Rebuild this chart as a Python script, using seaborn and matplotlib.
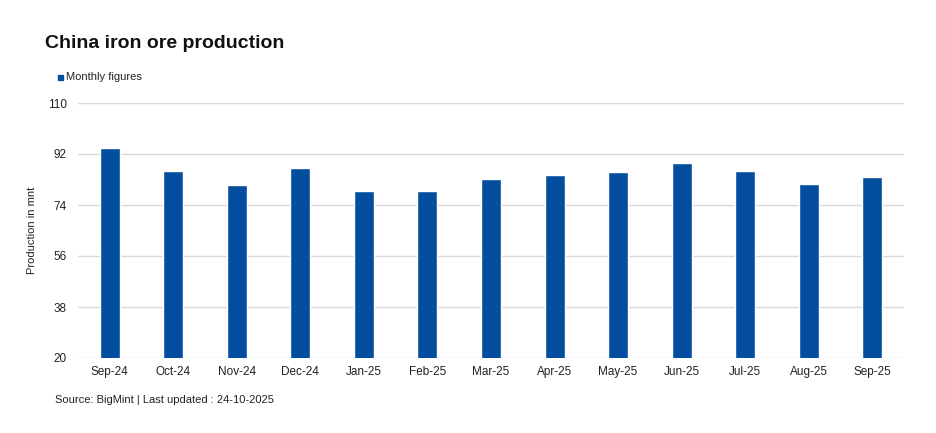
import matplotlib
matplotlib.use("Agg")
import matplotlib.pyplot as plt
import pandas as pd
import seaborn as sns

months = ["Sep-24", "Oct-24", "Nov-24", "Dec-24", "Jan-25", "Feb-25", "Mar-25",
          "Apr-25", "May-25", "Jun-25", "Jul-25", "Aug-25", "Sep-25"]
production = [94.1, 86.0, 81.1, 87.1, 78.9, 78.9, 83.2, 84.6, 85.7, 88.8, 86.0, 81.4, 83.9]
y_ticks = [20, 38, 56, 74, 92, 110]

bar_color = "#044EA0"
grid_color = "#D9D9D9"

sns.set_theme(style="white")
plt.rcParams['font.family'] = ['Liberation Sans', 'DejaVu Sans']

df = pd.DataFrame({"month": months, "production": production})

fig = plt.figure(figsize=(9.36, 4.33), dpi=100)
ax = fig.add_axes([78 / 936, 1 - 358 / 433, (904 - 78) / 936, (358 - 103) / 433])

sns.barplot(data=df, x="month", y="production", color=bar_color, width=0.315,
            saturation=1, ax=ax, zorder=3)

ax.set_ylim(20, 110)
ax.set_yticks(y_ticks)
ax.set_xlim(-0.5, len(months) - 0.5)
ax.yaxis.grid(True, color=grid_color, linewidth=1, zorder=0)
for s in ax.spines.values():
    s.set_visible(False)
ax.tick_params(axis="both", length=0, labelsize=8.5, colors="#222222")
ax.tick_params(axis="y", pad=8)
ax.tick_params(axis="x", pad=6)
ax.set_xlabel("")
ax.set_ylabel("Production in mnt", fontsize=8, color="#222222")
ax.yaxis.set_label_coords(-41 / 826, 0.5)

fig.text(45 / 936, 1 - 43 / 433, "China iron ore production", fontsize=14,
         fontweight="bold", va="center", ha="left", color="#111111")
fig.patches.append(plt.Rectangle((58 / 936, 1 - 80 / 433), 5 / 936, 5 / 433,
                                 transform=fig.transFigure, color=bar_color, figure=fig))
fig.text(66 / 936, 1 - 77 / 433, "Monthly figures", fontsize=8, va="center",
         ha="left", color="#222222")
fig.text(55 / 936, 1 - 400 / 433, "Source: BigMint | Last updated : 24-10-2025",
         fontsize=8, va="center", ha="left", color="#222222")

fig.savefig("out.png", dpi=100)
